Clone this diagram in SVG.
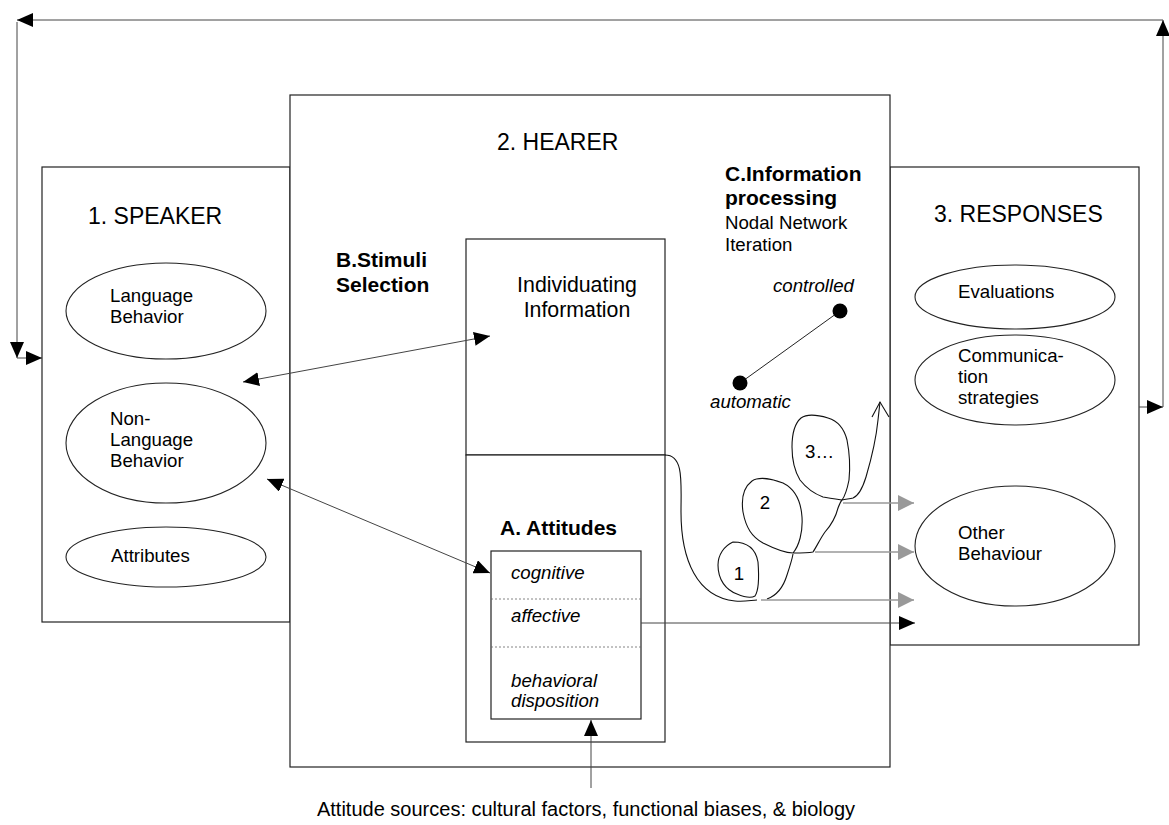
<svg xmlns="http://www.w3.org/2000/svg" width="1169" height="825" viewBox="0 0 1169 825">
  <style>
    .box { fill: #fff; stroke: #222; stroke-width: 1.2; }
    .ell { fill: #fff; stroke: #222; stroke-width: 1.1; }
    .t { font-family: "Liberation Sans", Arial, sans-serif; fill: #000; }
    .title { font-size: 23px; }
    .body { font-size: 18.67px; }
    .big { font-size: 21.33px; }
    .bold { font-size: 21px; font-weight: bold; }
    .it { font-style: italic; font-size: 18.67px; }
    .link { fill: none; stroke: #444; stroke-width: 1; }
    .grey { fill: none; stroke: #999; stroke-width: 1.6; }
    .scrib { fill: none; stroke: #111; stroke-width: 1.1; }
    .dash { stroke: #666; stroke-width: 0.8; stroke-dasharray: 2 2; }
  </style>
  <defs>
    <marker id="ah" markerUnits="userSpaceOnUse" markerWidth="16" markerHeight="14" refX="16" refY="7" orient="auto-start-reverse">
      <path d="M0,0 L16,7 L0,14 z" fill="#000"/>
    </marker>
    <marker id="ahg" markerUnits="userSpaceOnUse" markerWidth="16" markerHeight="16" refX="16" refY="8" orient="auto">
      <path d="M0,0 L16,8 L0,16 z" fill="#999"/>
    </marker>
  </defs>

  <rect width="1169" height="825" fill="#fff"/>

  <!-- 1. Speaker -->
  <g id="speaker">
    <rect class="box" x="42" y="167" width="248" height="455"/>
    <text class="t title" x="88" y="224">1. SPEAKER</text>
  </g>
  <g id="language-behavior">
    <ellipse class="ell" cx="166" cy="311" rx="100" ry="48"/>
    <text class="t body" x="110" y="302">Language</text>
    <text class="t body" x="110" y="323">Behavior</text>
  </g>
  <g id="non-language-behavior">
    <ellipse class="ell" cx="166" cy="443" rx="100" ry="60"/>
    <text class="t body" x="110" y="425">Non-</text>
    <text class="t body" x="110" y="446">Language</text>
    <text class="t body" x="110" y="467">Behavior</text>
  </g>
  <g id="attributes">
    <ellipse class="ell" cx="166" cy="557" rx="100" ry="30"/>
    <text class="t body" x="111" y="562">Attributes</text>
  </g>

  <!-- 3. Responses -->
  <g id="responses">
    <rect class="box" x="890" y="167" width="249" height="478"/>
    <text class="t title" x="934" y="222">3. RESPONSES</text>
  </g>
  <g id="evaluations">
    <ellipse class="ell" cx="1015" cy="297" rx="100" ry="32"/>
    <text class="t body" x="958" y="298">Evaluations</text>
  </g>
  <g id="communication-strategies">
    <ellipse class="ell" cx="1015" cy="380" rx="100" ry="45"/>
    <text class="t body" x="958" y="362">Communica-</text>
    <text class="t body" x="958" y="383">tion</text>
    <text class="t body" x="958" y="404">strategies</text>
  </g>
  <g id="other-behaviour">
    <ellipse class="ell" cx="1015" cy="546" rx="100" ry="60"/>
    <text class="t body" x="958" y="539">Other</text>
    <text class="t body" x="958" y="560">Behaviour</text>
  </g>

  <!-- 2. Hearer -->
  <g id="hearer">
    <rect class="box" x="290" y="95" width="600" height="672"/>
    <text class="t title" x="497" y="150">2. HEARER</text>
  </g>
  <g id="stimuli-selection">
    <text class="t bold" x="336" y="267">B.Stimuli</text>
    <text class="t bold" x="336" y="292">Selection</text>
  </g>
  <g id="individuating-information">
    <rect class="box" x="466" y="239" width="199" height="216"/>
    <text class="t big" x="577" y="292" text-anchor="middle">Individuating</text>
    <text class="t big" x="577" y="317" text-anchor="middle">Information</text>
  </g>
  <g id="attitudes-area">
    <rect class="box" x="466" y="455" width="199" height="287"/>
    <text class="t bold" x="500" y="535">A. Attitudes</text>
  </g>
  <g id="attitudes">
    <rect class="box" x="491" y="551" width="150" height="168"/>
    <line class="dash" x1="491" y1="599" x2="641" y2="599"/>
    <line class="dash" x1="491" y1="647" x2="641" y2="647"/>
    <text class="t it" x="511" y="579">cognitive</text>
    <text class="t it" x="511" y="622">affective</text>
    <text class="t it" x="511" y="687">behavioral</text>
    <text class="t it" x="511" y="707">disposition</text>
  </g>
  <g id="information-processing">
    <text class="t bold" x="725" y="181">C.Information</text>
    <text class="t bold" x="725" y="205">processing</text>
    <text class="t body" x="725" y="229">Nodal Network</text>
    <text class="t body" x="725" y="251">Iteration</text>
  </g>
  <g id="processing-scale">
    <line x1="740" y1="383" x2="840" y2="311" stroke="#222" stroke-width="1"/>
    <circle cx="840" cy="311" r="7.5" fill="#000"/>
    <circle cx="740" cy="383" r="7.5" fill="#000"/>
    <text class="t it" x="773" y="292">controlled</text>
    <text class="t it" x="710" y="408">automatic</text>
  </g>
  <g id="iterations">
    <!-- curve leaving the individuating/attitude boundary -->
    <path class="scrib" d="M665,455 C684,455 681,482 681,512 C681,560 697,597 735,601 C745,602 752,600 757,600"/>
    <!-- loop 1 -->
    <path class="scrib" d="M733,542 C724,546 718,555 718,565 C718,580 726,590 737,594 C744,597 750,599 755,596 C759,590 759,575 758,562 C756,550 748,542 733,542 Z"/>
    <!-- link 1 to 2 -->
    <path class="scrib" d="M767,599 C778,595 784,585 787,575 C790,566 792,560 793,554"/>
    <!-- loop 2 -->
    <path class="scrib" d="M793,553 C785,553 775,549 763,543 C752,537 746,528 743,512 C741,498 744,487 752,481 C758,477 770,478 783,483 C795,489 801,502 802,517 C803,532 799,546 793,553 C800,553 808,553 813,552 C817,546 820,539 825,532 C832,524 836,516 838,508 C840,503 841,501 842,500"/>
    <!-- loop 3 and exit -->
    <path class="scrib" d="M842,500 C835,499 828,498 823,497 C815,494 807,489 800,480 C794,470 792,458 792,447 C792,435 794,424 801,418 C808,413 818,415 828,418 C838,421 844,428 847,440 C850,455 850,470 849,480 C847,490 845,496 842,500 C846,499 850,499 853,498 C858,496 862,490 866,477 C871,460 876,440 878,420 L880,402"/>
    <path class="scrib" d="M872,417 L880,402 L889,417"/>
    <text class="t body" x="739" y="580" text-anchor="middle">1</text>
    <text class="t body" x="765" y="509" text-anchor="middle">2</text>
    <text class="t body" x="805" y="458">3…</text>
  </g>

  <!-- connectors -->
  <g id="connectors">
    <line class="link" x1="243" y1="382" x2="490" y2="336" marker-start="url(#ah)" marker-end="url(#ah)"/>
    <line class="link" x1="267" y1="479" x2="490" y2="573" marker-start="url(#ah)" marker-end="url(#ah)"/>
    <line class="link" x1="641" y1="623" x2="915" y2="623" marker-end="url(#ah)"/>
    <line class="link" x1="591" y1="788" x2="591" y2="720" marker-end="url(#ah)"/>
    <line class="grey" x1="761" y1="600" x2="914" y2="600" marker-end="url(#ahg)"/>
    <line class="grey" x1="815" y1="552" x2="914" y2="552" marker-end="url(#ahg)"/>
    <line class="grey" x1="843" y1="503" x2="914" y2="503" marker-end="url(#ahg)"/>
    <!-- feedback loop from responses back to speaker -->
    <line class="link" x1="1139" y1="407" x2="1163" y2="407" marker-end="url(#ah)"/>
    <line class="link" x1="1163" y1="407" x2="1163" y2="20" marker-end="url(#ah)"/>
    <line class="link" x1="1163" y1="20" x2="17" y2="20" marker-end="url(#ah)"/>
    <line class="link" x1="17" y1="22" x2="17" y2="358" marker-end="url(#ah)"/>
    <line class="link" x1="17" y1="358" x2="42" y2="358" marker-end="url(#ah)"/>
  </g>

  <g id="attitude-sources">
    <text class="t" font-size="20" x="586" y="816" text-anchor="middle">Attitude sources: cultural factors, functional biases, &amp; biology</text>
  </g>
</svg>
